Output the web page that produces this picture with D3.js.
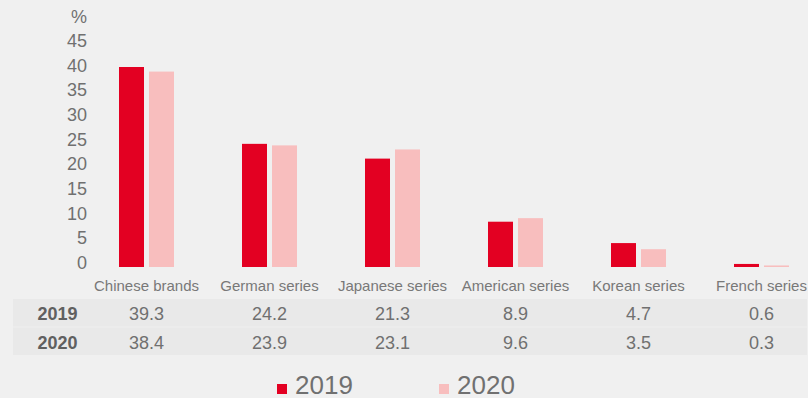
<!DOCTYPE html>
<html>
<head>
<meta charset="utf-8">
<script src="https://cdn.jsdelivr.net/npm/d3@7"></script>
<style>
  body { margin: 0; background: #f0f0f0; }
  svg { display: block; font-family: "Liberation Sans", Arial, sans-serif; }
</style>
</head>
<body>
<div id="chart"></div>
<script>
var categories = ["Chinese brands", "German series", "Japanese series", "American series", "Korean series", "French series"];
var years = ["2019", "2020"];
var values2019 = [39.3, 24.2, 21.3, 8.9, 4.7, 0.6];
var values2020 = [38.4, 23.9, 23.1, 9.6, 3.5, 0.3];
var yTicks = [0, 5, 10, 15, 20, 25, 30, 35, 40, 45];

var w = 808;
var h = 398;
var colors = { "2019": "#e30022", "2020": "#f8bebe" };
var textColor = "#707070";

var series = [
    { year: "2019", values: values2019 },
    { year: "2020", values: values2020 }
];

var svg = d3.select("#chart")
    .append("svg")
    .attr("width", w)
    .attr("height", h);

svg.append("rect")
    .attr("width", w)
    .attr("height", h)
    .attr("fill", "#f0f0f0");

// Scales
var xScale = d3.scaleBand()
    .domain(categories)
    .range([85, 823]);

var xSub = d3.scaleBand()
    .domain(years)
    .range([34, 89])
    .paddingInner(1 / 6);

// bars in the original sit on a slightly taller scale than the tick labels
var yScale = d3.scaleLinear()
    .domain([0, 45])
    .range([267, 38]);

var yAxisScale = d3.scaleLinear()
    .domain([0, 45])
    .range([262, 40]);

// Bars
var groups = svg.selectAll(".group")
    .data(categories)
    .enter()
    .append("g")
    .attr("transform", function(d) { return "translate(" + xScale(d) + ",0)"; });

groups.selectAll("rect")
    .data(function(d, i) {
        return series.map(function(s) { return { year: s.year, value: s.values[i] }; });
    })
    .enter()
    .append("rect")
    .attr("x", function(d) { return xSub(d.year); })
    .attr("width", xSub.bandwidth())
    .attr("y", function(d) { return yScale(d.value); })
    .attr("height", function(d) { return yScale(0) - yScale(d.value); })
    .attr("fill", function(d) { return colors[d.year]; });

// Y axis
var yAxis = svg.append("g")
    .attr("transform", "translate(87,0)")
    .call(d3.axisLeft(yAxisScale).tickValues(yTicks).tickSize(0).tickPadding(0));
yAxis.select(".domain").remove();
yAxis.selectAll("text")
    .attr("dy", "0.36em")
    .style("font-size", "18px")
    .style("font-family", "inherit")
    .attr("fill", textColor);

svg.append("text")
    .attr("x", 87)
    .attr("y", 23)
    .attr("text-anchor", "end")
    .style("font-size", "18px")
    .attr("fill", textColor)
    .text("%");

// Category labels
var xAxis = svg.append("g")
    .attr("transform", "translate(0,280)")
    .call(d3.axisBottom(xScale).tickSize(0).tickPadding(0));
xAxis.select(".domain").remove();
xAxis.selectAll("text")
    .style("font-size", "15px")
    .style("font-family", "inherit")
    .attr("fill", "#787878");

// Data table
var rowTop = d3.scaleBand()
    .domain(years)
    .range([299, 355])
    .paddingInner(2 / 56);

var rows = svg.selectAll(".row")
    .data(series)
    .enter()
    .append("g")
    .attr("transform", function(d) { return "translate(0," + rowTop(d.year) + ")"; });

rows.append("rect")
    .attr("x", 13)
    .attr("width", 794)
    .attr("height", rowTop.bandwidth())
    .attr("fill", "#e9e9e9");

rows.append("text")
    .attr("x", 57.5)
    .attr("y", 21)
    .attr("text-anchor", "middle")
    .style("font-size", "18px")
    .style("font-weight", "bold")
    .attr("fill", "#606060")
    .text(function(d) { return d.year; });

rows.selectAll(".val")
    .data(function(d) { return d.values; })
    .enter()
    .append("text")
    .attr("x", function(d, i) { return xScale(categories[i]) + xScale.bandwidth() / 2; })
    .attr("y", 21)
    .attr("text-anchor", "middle")
    .style("font-size", "18px")
    .attr("fill", textColor)
    .text(function(d) { return d.toFixed(1); });

// Legend
var legendX = { "2019": 277, "2020": 439 };
var legend = svg.selectAll(".legend")
    .data(years)
    .enter()
    .append("g")
    .attr("transform", function(d) { return "translate(" + legendX[d] + ",384)"; });

legend.append("rect")
    .attr("width", 10)
    .attr("height", 10)
    .attr("fill", function(d) { return colors[d]; });

legend.append("text")
    .attr("x", 18)
    .attr("y", 10)
    .style("font-size", "26px")
    .attr("fill", textColor)
    .text(function(d) { return d; });
</script>
</body>
</html>
